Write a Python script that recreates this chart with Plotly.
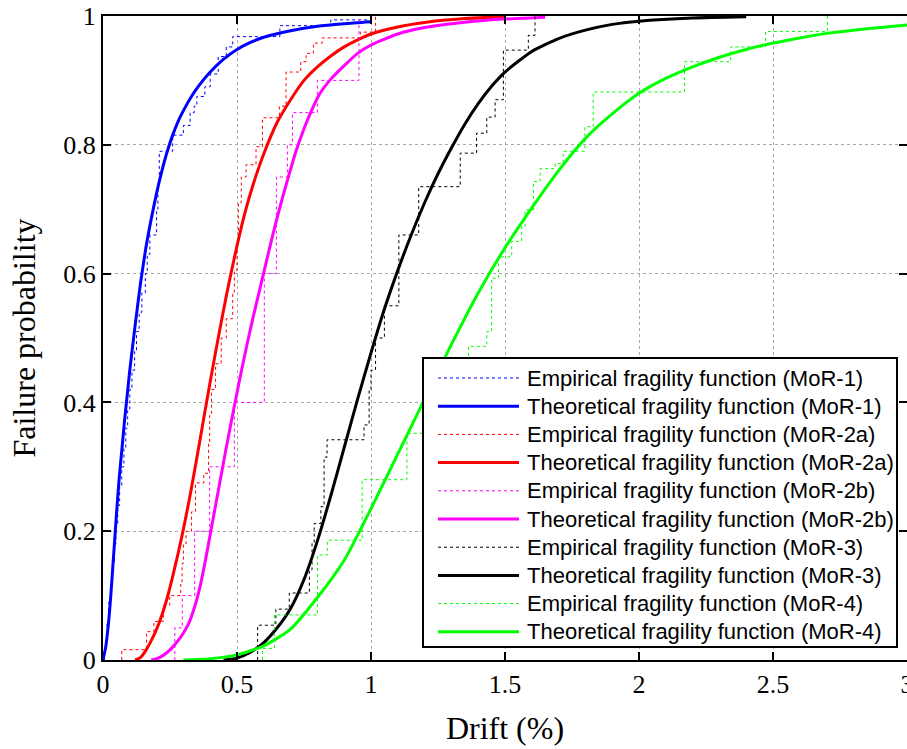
import plotly.graph_objects as go

# ---------------- data ----------------
# Theoretical fragility curves: drift (%) vs failure probability
theo_mor1_x = [0.0, 0.01, 0.02, 0.03, 0.04, 0.05, 0.06, 0.07, 0.08, 0.09, 0.1, 0.12, 0.14, 0.16, 0.18, 0.2,
               0.22, 0.24, 0.26, 0.28, 0.3, 0.33, 0.36, 0.4, 0.45, 0.5, 0.55, 0.6, 0.7, 0.8, 0.9, 1.0]
theo_mor1_p = [0.0, 0.02, 0.055, 0.105, 0.165, 0.225, 0.28, 0.325, 0.37, 0.41, 0.45, 0.52, 0.585, 0.64, 0.685, 0.725,
               0.76, 0.79, 0.815, 0.836, 0.853, 0.875, 0.893, 0.913, 0.933, 0.948, 0.959, 0.967, 0.977, 0.984, 0.988, 0.991]

theo_mor2a_x = [0.12, 0.14, 0.16, 0.18, 0.2, 0.22, 0.24, 0.26, 0.28, 0.3, 0.32, 0.34, 0.36, 0.38, 0.4, 0.42,
                0.44, 0.46, 0.48, 0.5, 0.53, 0.56, 0.6, 0.65, 0.7, 0.75, 0.8, 0.85, 0.9, 0.95, 1.0, 1.1, 1.2,
                1.35, 1.5]
theo_mor2a_p = [0.0, 0.004, 0.015, 0.03, 0.048, 0.07, 0.097, 0.13, 0.165, 0.203, 0.245, 0.29, 0.337, 0.385, 0.432, 0.478,
                0.522, 0.565, 0.605, 0.643, 0.695, 0.738, 0.786, 0.835, 0.87, 0.9, 0.921, 0.938, 0.952, 0.963, 0.972, 0.983, 0.99,
                0.996, 0.999]

theo_mor2b_x = [0.18, 0.2, 0.22, 0.24, 0.26, 0.28, 0.3, 0.32, 0.34, 0.36, 0.38, 0.4, 0.42, 0.44, 0.46, 0.48,
                0.5, 0.52, 0.54, 0.56, 0.58, 0.6, 0.62, 0.64, 0.66, 0.68, 0.7, 0.72, 0.75, 0.78, 0.81, 0.85,
                0.9, 0.95, 1.0, 1.1, 1.2, 1.3, 1.45, 1.65]
theo_mor2b_p = [0.0, 0.002, 0.006, 0.012, 0.02, 0.03, 0.042, 0.057, 0.08, 0.11, 0.15, 0.195, 0.24, 0.285, 0.33, 0.373,
                0.415, 0.456, 0.495, 0.532, 0.567, 0.602, 0.637, 0.671, 0.703, 0.733, 0.762, 0.79, 0.825, 0.855, 0.88, 0.902,
                0.923, 0.942, 0.955, 0.972, 0.982, 0.988, 0.994, 0.998]

theo_mor3_x = [0.45, 0.5, 0.55, 0.6, 0.65, 0.7, 0.75, 0.8, 0.85, 0.9, 0.95, 1.0, 1.05, 1.1, 1.15, 1.2,
               1.25, 1.3, 1.35, 1.4, 1.45, 1.5, 1.6, 1.7, 1.8, 1.9, 2.0, 2.2, 2.4]
theo_mor3_p = [0.0, 0.003, 0.012, 0.027, 0.05, 0.08, 0.125, 0.185, 0.255, 0.33, 0.405, 0.477, 0.545, 0.605, 0.66, 0.71,
               0.755, 0.795, 0.832, 0.864, 0.891, 0.913, 0.945, 0.965, 0.978, 0.987, 0.992, 0.997, 0.999]

theo_mor4_x = [0.3, 0.4, 0.5, 0.6, 0.7, 0.8, 0.9, 1.0, 1.1, 1.2, 1.3, 1.4, 1.5, 1.6, 1.7, 1.8,
               1.9, 2.0, 2.1, 2.2, 2.3, 2.4, 2.5, 2.6, 2.7, 2.8, 2.9, 3.0]
theo_mor4_p = [0.0, 0.002, 0.008, 0.022, 0.048, 0.097, 0.155, 0.235, 0.32, 0.405, 0.49, 0.57, 0.64, 0.702, 0.76, 0.81,
               0.848, 0.88, 0.903, 0.921, 0.936, 0.948, 0.958, 0.966, 0.973, 0.978, 0.982, 0.986]

# Empirical fragility functions: drift at each step and cumulative level after it
emp_mor1_x = [0.005, 0.01, 0.015, 0.022, 0.028, 0.035, 0.042, 0.048, 0.055, 0.062, 0.07, 0.078, 0.085, 0.092,
              0.1, 0.108, 0.118, 0.125, 0.135, 0.145, 0.158, 0.165, 0.175, 0.2, 0.205, 0.21, 0.26, 0.3, 0.325,
              0.34, 0.35, 0.38, 0.4, 0.43, 0.46, 0.484, 0.66, 0.85, 1.0]
emp_mor1_p = [0.015, 0.03, 0.06, 0.09, 0.12, 0.15, 0.18, 0.21, 0.24, 0.27, 0.3, 0.33, 0.36, 0.39,
              0.42, 0.45, 0.48, 0.51, 0.54, 0.57, 0.6, 0.63, 0.66, 0.7, 0.74, 0.79, 0.815, 0.83, 0.85,
              0.86, 0.875, 0.89, 0.91, 0.937, 0.952, 0.968, 0.985, 0.994, 1.0]

emp_mor2a_x = [0.07, 0.162, 0.19, 0.225, 0.249, 0.29, 0.295, 0.3, 0.31, 0.33, 0.345, 0.376, 0.394, 0.398,
               0.405, 0.42, 0.441, 0.46, 0.484, 0.49, 0.5, 0.505, 0.516, 0.534, 0.571, 0.595, 0.658, 0.683,
               0.738, 0.758, 0.785, 0.818, 0.96, 1.017]
emp_mor2a_p = [0.016, 0.044, 0.06, 0.085, 0.1, 0.12, 0.15, 0.18, 0.2, 0.23, 0.275, 0.29, 0.336, 0.38,
               0.42, 0.46, 0.5, 0.53, 0.57, 0.605, 0.65, 0.71, 0.75, 0.769, 0.797, 0.842, 0.86, 0.913,
               0.929, 0.942, 0.958, 0.966, 0.975, 1.0]

emp_mor2b_x = [0.268, 0.296, 0.342, 0.398, 0.49, 0.602, 0.647, 0.688, 0.707, 0.8, 0.955]
emp_mor2b_p = [0.05, 0.1, 0.2, 0.3, 0.4, 0.6, 0.75, 0.8, 0.85, 0.9, 1.0]

emp_mor3_x = [0.577, 0.645, 0.695, 0.77, 0.78, 0.788, 0.813, 0.825, 0.836, 0.974, 0.993, 1.0, 1.017,
              1.05, 1.104, 1.178, 1.333, 1.394, 1.432, 1.463, 1.494, 1.587, 1.612]
emp_mor3_p = [0.054, 0.079, 0.104, 0.14, 0.181, 0.212, 0.238, 0.315, 0.342, 0.365, 0.42, 0.45, 0.5,
              0.55, 0.66, 0.735, 0.787, 0.818, 0.843, 0.87, 0.947, 0.97, 1.0]

emp_mor4_x = [0.595, 0.64, 0.8, 0.837, 0.967, 1.134, 1.25, 1.364, 1.432, 1.45, 1.476, 1.525, 1.562, 1.575,
              1.606, 1.631, 1.687, 1.717, 1.798, 1.829, 2.17, 2.342, 2.472, 2.703]
emp_mor4_p = [0.018, 0.07, 0.163, 0.186, 0.28, 0.352, 0.42, 0.487, 0.51, 0.593, 0.626, 0.65, 0.673, 0.699,
              0.743, 0.763, 0.771, 0.79, 0.828, 0.882, 0.929, 0.952, 0.976, 1.0]

x_ticks = [0, 0.5, 1, 1.5, 2, 2.5, 3]
x_tick_text = ["0", "0.5", "1", "1.5", "2", "2.5", "3"]
y_ticks = [0, 0.2, 0.4, 0.6, 0.8, 1]
y_tick_text = ["0", "0.2", "0.4", "0.6", "0.8", "1"]

series = [
    ("MoR-1", "#0000ff", emp_mor1_x, emp_mor1_p, theo_mor1_x, theo_mor1_p),
    ("MoR-2a", "#ff0000", emp_mor2a_x, emp_mor2a_p, theo_mor2a_x, theo_mor2a_p),
    ("MoR-2b", "#ff00ff", emp_mor2b_x, emp_mor2b_p, theo_mor2b_x, theo_mor2b_p),
    ("MoR-3", "#000000", emp_mor3_x, emp_mor3_p, theo_mor3_x, theo_mor3_p),
    ("MoR-4", "#00ff00", emp_mor4_x, emp_mor4_p, theo_mor4_x, theo_mor4_p),
]

# ---------------- figure ----------------
W, H = 907, 749
ML, MR, MT, MB = 103, 0, 16, 89
PW, PH = W - ML - MR, H - MT - MB

fig = go.Figure()
for name, color, ex, ep, tx, tp in series:
    # empirical CDF as a dotted staircase starting from zero
    fig.add_trace(go.Scatter(
        x=[ex[0]] + ex, y=[0] + ep, mode="lines", line_shape="hv",
        line=dict(color=color, width=1, dash="dot"),
        name=f"Empirical fragility function ({name})", showlegend=False))
    fig.add_trace(go.Scatter(
        x=tx, y=tp, mode="lines", line_shape="spline",
        line=dict(color=color, width=3, smoothing=0.6),
        name=f"Theoretical fragility function ({name})", showlegend=False))


def px_x(px):
    return (px - ML) / PW


def px_y(py):
    return (MT + PH - py) / PH


# legend box drawn over the plot
box_l, box_r, box_t, box_b = 423, 897, 358, 647
shapes = [dict(type="rect", xref="paper", yref="paper",
               x0=px_x(box_l), x1=px_x(box_r), y0=px_y(box_b), y1=px_y(box_t),
               fillcolor="white", line=dict(color="black", width=2), layer="above")]
annotations = []
row0, row_step = 378, 28.2
i = 0
for name, color, *_ in series:
    for kind, width, dash in (("Empirical", 1, "dot"), ("Theoretical", 3, "solid")):
        yc = px_y(row0 + i * row_step)
        shapes.append(dict(type="line", xref="paper", yref="paper",
                           x0=px_x(438), x1=px_x(519), y0=yc, y1=yc,
                           line=dict(color=color, width=width, dash=dash), layer="above"))
        annotations.append(dict(xref="paper", yref="paper", x=px_x(525), y=yc,
                                xanchor="left", yanchor="middle", showarrow=False,
                                text=f"{kind} fragility function ({name})",
                                font=dict(family="Liberation Sans, Arial", size=22, color="black")))
        i += 1

axis_common = dict(
    showline=True, linecolor="black", linewidth=2, mirror="ticks",
    ticks="inside", ticklen=8, tickwidth=2, tickcolor="black",
    showgrid=True, gridcolor="#a8a8a8", gridwidth=1, griddash="dot",
    zeroline=False, ticklabeloverflow="allow", automargin=False,
    tickfont=dict(family="Liberation Serif, Times New Roman", size=26, color="black"),
)

fig.update_layout(
    width=W, height=H,
    margin=dict(l=ML, r=MR, t=MT, b=MB, pad=0),
    paper_bgcolor="white", plot_bgcolor="white",
    showlegend=False,
    shapes=shapes, annotations=annotations,
    xaxis=dict(range=[0, 3], tickvals=x_ticks, ticktext=x_tick_text,
               title=dict(text="Drift (%)", standoff=18,
                          font=dict(family="Liberation Serif, Times New Roman", size=32, color="black")),
               **axis_common),
    yaxis=dict(range=[0, 1], tickvals=y_ticks, ticktext=y_tick_text,
               title=dict(text="Failure probability", standoff=18,
                          font=dict(family="Liberation Serif, Times New Roman", size=32, color="black")),
               **axis_common),
)

fig.write_html("out.html")
